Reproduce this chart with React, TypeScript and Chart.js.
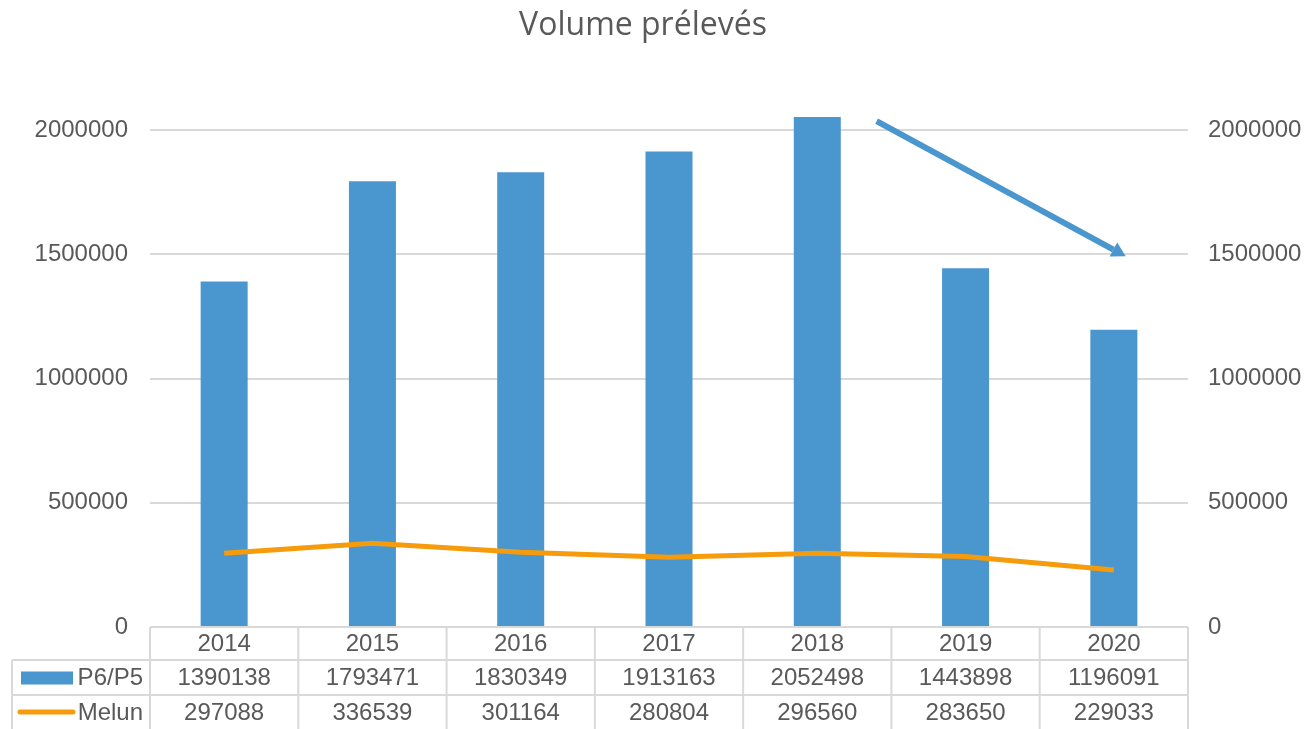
import React, { useEffect, useRef } from "react";
import { Chart, registerables } from "chart.js";

Chart.register(...registerables);

const categories = ["2014", "2015", "2016", "2017", "2018", "2019", "2020"];
const p6p5Values = [1390138, 1793471, 1830349, 1913163, 2052498, 1443898, 1196091];
const melunValues = [297088, 336539, 301164, 280804, 296560, 283650, 229033];
const seriesNames = ["P6/P5", "Melun"];
const titleText = "Volume prélevés";
// arrow annotation anchored in data coordinates (category index, value)
const arrowFrom = { x: 4.4, y: 2036000 };
const arrowTo = { x: 6.08, y: 1492000 };

const BLUE = "#4A96CE";
const ORANGE = "#F59B0C";
const TEXT = "#595959";
const GRID = "#D9D9D9";
const FONT = "'Liberation Sans', Arial, sans-serif";

const tablePlugin = {
  id: "tablePlugin",
  afterDraw(chart: any) {
    const ctx = chart.ctx;
    const ca = chart.chartArea;
    const xs = chart.scales.x;
    const ys = chart.scales.y;
    const n = categories.length;
    const colW = (ca.right - ca.left) / n;
    const top = ca.bottom;
    const r1 = top + 33;
    const r2 = r1 + 35;
    const bottom = chart.height;
    const tableLeft = 12;

    ctx.save();
    // title
    ctx.fillStyle = TEXT;
    ctx.font = "32px 'Open Sans', sans-serif";
    ctx.textAlign = "center";
    ctx.textBaseline = "middle";
    ctx.fillText(titleText, 643, 26);

    // table lines
    ctx.strokeStyle = GRID;
    ctx.lineWidth = 2;
    ctx.beginPath();
    ctx.moveTo(ca.left, top);
    ctx.lineTo(ca.right, top);
    ctx.moveTo(tableLeft, r1);
    ctx.lineTo(ca.right, r1);
    ctx.moveTo(tableLeft, r2);
    ctx.lineTo(ca.right, r2);
    ctx.moveTo(tableLeft, r1);
    ctx.lineTo(tableLeft, bottom);
    for (let k = 0; k <= n; k++) {
      const x = ca.left + k * colW;
      ctx.moveTo(x, top);
      ctx.lineTo(x, bottom);
    }
    ctx.stroke();

    // texts
    ctx.fillStyle = TEXT;
    ctx.font = "24px " + FONT;
    ctx.textAlign = "center";
    ctx.textBaseline = "middle";
    const y0 = (top + r1) / 2 + 1;
    const y1 = (r1 + r2) / 2 + 1;
    const y2 = (r2 + bottom) / 2 + 1;
    for (let i = 0; i < n; i++) {
      const cx = xs.getPixelForValue(i);
      ctx.fillText(categories[i], cx, y0);
      ctx.fillText(String(p6p5Values[i]), cx, y1);
      ctx.fillText(String(melunValues[i]), cx, y2);
    }
    ctx.textAlign = "right";
    ctx.fillText(seriesNames[0], 143, y1);
    ctx.fillText(seriesNames[1], 143, y2);

    // legend keys
    ctx.fillStyle = BLUE;
    ctx.fillRect(21, y1 - 7, 52, 13);
    ctx.strokeStyle = ORANGE;
    ctx.lineWidth = 5;
    ctx.lineCap = "round";
    ctx.beginPath();
    ctx.moveTo(20, y2 - 1);
    ctx.lineTo(73, y2 - 1);
    ctx.stroke();

    // arrow
    const ax = xs.getPixelForValue(arrowFrom.x);
    const ay = ys.getPixelForValue(arrowFrom.y);
    const bx = xs.getPixelForValue(arrowTo.x);
    const by = ys.getPixelForValue(arrowTo.y);
    const ang = Math.atan2(by - ay, bx - ax);
    const headLen = 14;
    const headW = 8;
    const hx = bx - headLen * Math.cos(ang);
    const hy = by - headLen * Math.sin(ang);
    ctx.strokeStyle = BLUE;
    ctx.fillStyle = BLUE;
    ctx.lineWidth = 6;
    ctx.lineCap = "butt";
    ctx.beginPath();
    ctx.moveTo(ax, ay);
    ctx.lineTo(hx, hy);
    ctx.stroke();
    ctx.beginPath();
    ctx.moveTo(bx, by);
    ctx.lineTo(hx + headW * Math.sin(ang), hy - headW * Math.cos(ang));
    ctx.lineTo(hx - headW * Math.sin(ang), hy + headW * Math.cos(ang));
    ctx.closePath();
    ctx.fill();
    ctx.restore();
  },
};

export default function App() {
  const ref = useRef<HTMLCanvasElement | null>(null);
  useEffect(() => {
    if (!ref.current) return;
    const tickFmt = (v: any) => String(v);
    const chart = new Chart(ref.current, {
      type: "bar",
      data: {
        labels: categories,
        datasets: [
          {
            type: "line",
            label: seriesNames[1],
            data: melunValues,
            borderColor: ORANGE,
            borderWidth: 5,
            pointRadius: 0,
            tension: 0,
            yAxisID: "y",
            order: 0,
          } as any,
          {
            type: "bar",
            label: seriesNames[0],
            data: p6p5Values,
            backgroundColor: BLUE,
            categoryPercentage: 1,
            barPercentage: 0.317,
            clip: false,
            yAxisID: "y",
            order: 1,
          } as any,
        ],
      },
      options: {
        animation: false,
        responsive: true,
        maintainAspectRatio: false,
        layout: { padding: { top: 130, bottom: 102, left: 0, right: 0 } },
        plugins: {
          legend: { display: false },
          title: { display: false },
          tooltip: { enabled: false },
        },
        scales: {
          x: { display: false, offset: true },
          y: {
            position: "left",
            min: 0,
            max: 2000000,
            afterFit: (s: any) => {
              s.width = 150;
            },
            ticks: {
              stepSize: 500000,
              padding: 22,
              color: TEXT,
              font: { family: FONT, size: 24 },
              callback: tickFmt,
            },
            grid: { color: GRID, lineWidth: 2, drawTicks: false },
            border: { display: false },
          },
          y2: {
            position: "right",
            min: 0,
            max: 2000000,
            afterFit: (s: any) => {
              s.width = 116;
            },
            ticks: {
              stepSize: 500000,
              padding: 20,
              color: TEXT,
              font: { family: FONT, size: 24 },
              callback: tickFmt,
            },
            grid: { display: false, drawTicks: false },
            border: { display: false },
          },
        },
      },
      plugins: [tablePlugin],
    });
    return () => chart.destroy();
  }, []);
  return (
    <div style={{ position: "absolute", left: 0, top: 0, width: 1304, height: 729, background: "#fff" }}>
      <canvas ref={ref} />
    </div>
  );
}
